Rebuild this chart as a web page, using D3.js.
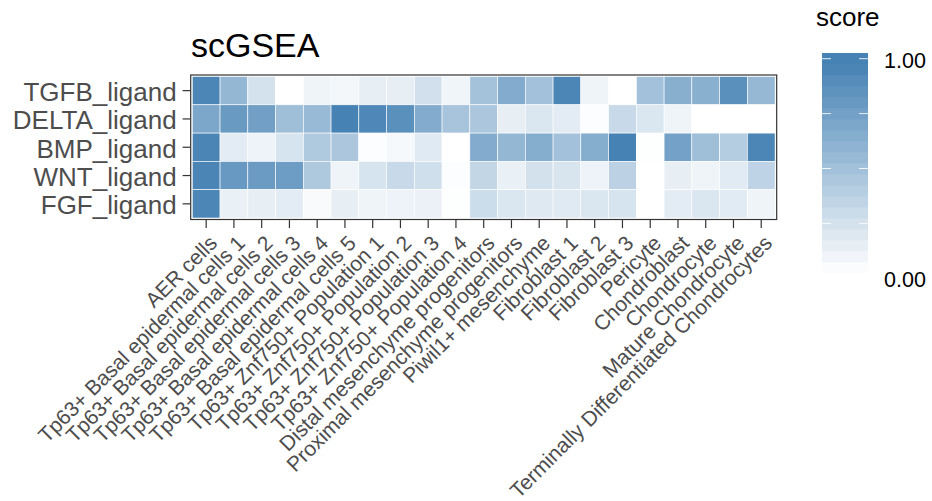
<!DOCTYPE html>
<html>
<head>
<meta charset="utf-8">
<script src="https://cdn.jsdelivr.net/npm/d3@7"></script>
<style>
  html, body { margin: 0; padding: 0; background: #fff; }
  svg { display: block; font-family: "Liberation Sans", Arial, Helvetica, sans-serif; }
</style>
</head>
<body>
<svg id="chart" width="932" height="501"></svg>
<script>
// Cell types along the x axis
const cellTypes = [
  "AER cells",
  "Tp63+ Basal epidermal cells 1",
  "Tp63+ Basal epidermal cells 2",
  "Tp63+ Basal epidermal cells 3",
  "Tp63+ Basal epidermal cells 4",
  "Tp63+ Basal epidermal cells 5",
  "Tp63+ Znf750+ Population 1",
  "Tp63+ Znf750+ Population 2",
  "Tp63+ Znf750+ Population 3",
  "Tp63+ Znf750+ Population 4",
  "Distal mesenchyme progenitors",
  "Proximal mesenchyme progenitors",
  "Piwil1+ mesenchyme",
  "Fibroblast 1",
  "Fibroblast 2",
  "Fibroblast 3",
  "Pericyte",
  "Chondroblast",
  "Chondrocyte",
  "Mature Chondrocyte",
  "Terminally Differentiated Chondrocytes"
];

// Ligand gene sets along the y axis (top to bottom)
const pathways = ["TGFB_ligand", "DELTA_ligand", "BMP_ligand", "WNT_ligand", "FGF_ligand"];

// scGSEA scores per gene set, one value per cell type
const tgfbScores  = [0.97, 0.58, 0.23, 0.00, 0.09, 0.065, 0.13, 0.13, 0.25, 0.08, 0.49, 0.67, 0.50, 0.97, 0.09, 0.00, 0.50, 0.64, 0.63, 0.89, 0.57];
const deltaScores = [0.71, 0.81, 0.77, 0.52, 0.55, 1.00, 0.95, 0.89, 0.67, 0.47, 0.45, 0.13, 0.20, 0.15, 0.02, 0.30, 0.20, 0.09, 0.00, 0.00, 0.00];
const bmpScores   = [0.98, 0.15, 0.10, 0.22, 0.43, 0.45, 0.02, 0.05, 0.17, 0.00, 0.67, 0.58, 0.66, 0.50, 0.66, 1.00, 0.01, 0.75, 0.52, 0.40, 0.97];
const wntScores   = [0.98, 0.82, 0.80, 0.79, 0.44, 0.09, 0.22, 0.30, 0.26, 0.02, 0.33, 0.12, 0.24, 0.21, 0.10, 0.36, 0.00, 0.13, 0.09, 0.16, 0.35];
const fgfScores   = [0.97, 0.12, 0.13, 0.15, 0.04, 0.13, 0.09, 0.10, 0.11, 0.01, 0.28, 0.20, 0.18, 0.17, 0.20, 0.22, 0.00, 0.15, 0.20, 0.16, 0.09];

// Colour bar breaks and labels
const legendTickValues = [0.25, 0.5, 0.75, 1.0];
const legendLabelValues = [0.0, 1.0];
const legendBarRange = [0.024, 1.026];
const legendBins = 20;

const scoresByPathway = {
  "TGFB_ligand": tgfbScores,
  "DELTA_ligand": deltaScores,
  "BMP_ligand": bmpScores,
  "WNT_ligand": wntScores,
  "FGF_ligand": fgfScores
};

const cells = [];
pathways.forEach(p => {
  scoresByPathway[p].forEach((v, i) => cells.push({ pathway: p, cell: cellTypes[i], score: v }));
});

const svg = d3.select("#chart");

// Panel geometry
const panel = { left: 190.7, right: 776.7, top: 75, bottom: 219.5 };
const inset = 1.6;

const x = d3.scaleBand()
  .domain(cellTypes)
  .range([panel.left + inset, panel.right - inset])
  .padding(0);

const y = d3.scaleBand()
  .domain(pathways)
  .range([panel.top + 1.5, panel.bottom - 1.5])
  .padding(0);

const color = d3.scaleLinear()
  .domain([0, 1])
  .range(["#ffffff", "#4682b4"])
  .interpolate(d3.interpolateRgb)
  .clamp(true);

// Title
svg.append("text")
  .attr("x", 191)
  .attr("y", 57)
  .attr("font-size", 34)
  .attr("fill", "#000")
  .text("scGSEA");

// Tiles
svg.append("g")
  .selectAll("rect")
  .data(cells)
  .join("rect")
  .attr("x", d => x(d.cell))
  .attr("y", d => y(d.pathway))
  .attr("width", x.bandwidth())
  .attr("height", y.bandwidth())
  .attr("fill", d => color(d.score))
  .attr("stroke", "#ffffff")
  .attr("stroke-width", 0.6);

// Panel border
svg.append("rect")
  .attr("x", panel.left)
  .attr("y", panel.top)
  .attr("width", panel.right - panel.left)
  .attr("height", panel.bottom - panel.top)
  .attr("fill", "none")
  .attr("stroke", "#333333")
  .attr("stroke-width", 1.2);

// Y axis
const yAxis = d3.axisLeft(y).tickSize(7.5).tickPadding(6);
const yg = svg.append("g")
  .attr("transform", `translate(${panel.left - 0.6},0)`)
  .call(yAxis);
yg.select(".domain").remove();
yg.selectAll(".tick line").attr("stroke", "#333333").attr("stroke-width", 1.2);
yg.selectAll(".tick text")
  .attr("font-size", 26)
  .attr("fill", "#4d4d4d")
  .attr("font-family", "\"Liberation Sans\", Arial, sans-serif")
  .attr("dy", "0.4em");

// X axis
const xAxis = d3.axisBottom(x).tickSize(8).tickPadding(0);
const xg = svg.append("g")
  .attr("transform", `translate(0,${panel.bottom + 0.6})`)
  .call(xAxis);
xg.select(".domain").remove();
xg.selectAll(".tick line").attr("stroke", "#333333").attr("stroke-width", 1.2);
xg.selectAll(".tick text")
  .attr("font-size", 21)
  .attr("fill", "#4d4d4d")
  .attr("font-family", "\"Liberation Sans\", Arial, sans-serif")
  .attr("text-anchor", "end")
  .attr("y", 0)
  .attr("dy", 0)
  .attr("transform", "translate(1,13) rotate(-45) translate(0,16)");

// Legend
const legend = { x: 822, width: 46 };
const ly = d3.scaleLinear().domain([0, 1]).range([278.3, 58.7]);

svg.append("text")
  .attr("x", 816)
  .attr("y", 26)
  .attr("font-size", 26)
  .attr("fill", "#000")
  .text("score");

const step = (legendBarRange[1] - legendBarRange[0]) / legendBins;
const bins = d3.range(legendBins).map(i => {
  const lo = legendBarRange[0] + i * step;
  return { lo, hi: lo + step, v: legendBarRange[0] + i * (legendBarRange[1] - legendBarRange[0]) / (legendBins - 1) };
});

svg.append("g")
  .selectAll("rect")
  .data(bins)
  .join("rect")
  .attr("x", legend.x)
  .attr("y", d => ly(d.hi))
  .attr("width", legend.width)
  .attr("height", d => ly(d.lo) - ly(d.hi) + 0.3)
  .attr("fill", d => color(d.v));

const lt = svg.append("g");
legendTickValues.forEach(v => {
  lt.append("line")
    .attr("x1", legend.x).attr("x2", legend.x + 9)
    .attr("y1", ly(v)).attr("y2", ly(v))
    .attr("stroke", "#ffffff").attr("stroke-opacity", 0.85).attr("stroke-width", 1);
  lt.append("line")
    .attr("x1", legend.x + legend.width - 9).attr("x2", legend.x + legend.width)
    .attr("y1", ly(v)).attr("y2", ly(v))
    .attr("stroke", "#ffffff").attr("stroke-opacity", 0.85).attr("stroke-width", 1);
});

svg.append("g")
  .selectAll("text")
  .data(legendLabelValues)
  .join("text")
  .attr("x", 884)
  .attr("y", d => ly(d) + 8.8)
  .attr("font-size", 21.5)
  .attr("fill", "#000")
  .text(d => d3.format(".2f")(d));
</script>
</body>
</html>
